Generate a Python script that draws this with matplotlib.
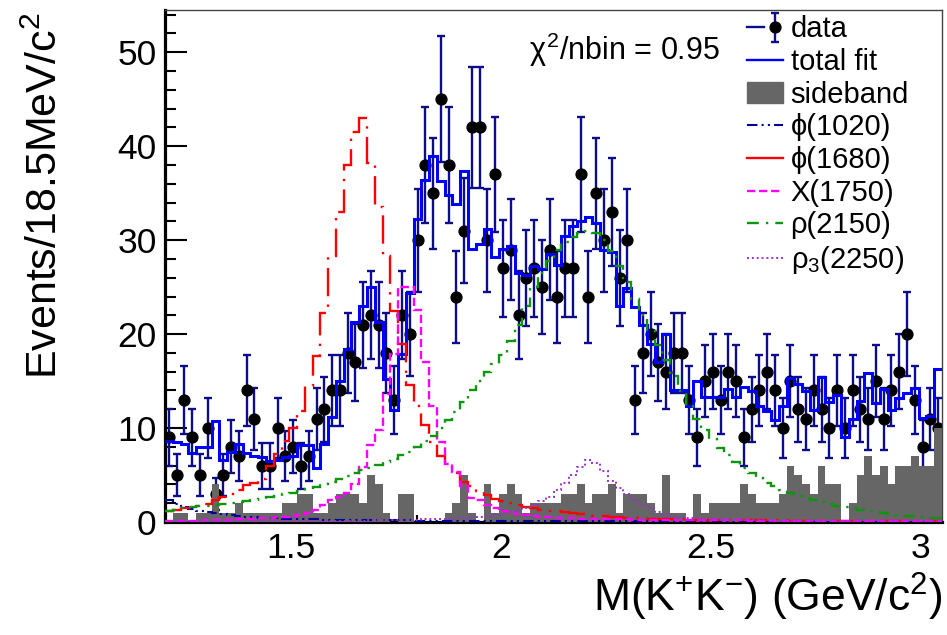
import numpy as np
import matplotlib
matplotlib.use("Agg")
import matplotlib.pyplot as plt
from matplotlib.lines import Line2D
from matplotlib.patches import Patch
from matplotlib.legend_handler import HandlerTuple
from matplotlib.ticker import MultipleLocator, FuncFormatter

plt.rcParams['font.family'] = ['Liberation Sans', 'DejaVu Sans']
plt.rcParams['mathtext.fontset'] = 'custom'
plt.rcParams['mathtext.rm'] = 'Liberation Sans'
plt.rcParams['mathtext.it'] = 'Liberation Sans'
plt.rcParams['mathtext.bf'] = 'Liberation Sans:bold'

# binning: 100 bins of 18.5 MeV starting at 1.2 GeV
x_min = 1.2
bin_width = 0.0185
n_bins = 100

data = [9, 5, 13, 9, 5, 10, 3, 5, 8, 7,
        14, 11, 6, 6, 10, 7, 8, 6, 7, 11,
        12, 14, 14, 18, 17, 21, 22, 21, 18, 13,
        22, 20, 30, 38, 35, 45, 38, 24, 31, 42,
        42, 30, 37, 27, 29, 22, 26, 27, 25, 29,
        24, 27, 27, 37, 24, 35, 30, 33, 26, 30,
        13, 18, 20, 17, 16, 18, 18, 13, 9, 15,
        16, 13, 16, 15, 9, 12, 14, 16, 14, 10,
        15, 12, 11, 14, 12, 10, 14, 10, 14, 12,
        11, 15, 11, 14, 16, 20, 13, 8, 11, 10]

total_fit = [8.6, 8.5, 8.3, 7.3, 8.0, 8.0, 10.7, 6.6, 7.5, 8.3,
             7.3, 7.0, 6.9, 6.5, 6.6, 6.9, 7.0, 8.2, 8.2, 5.7,
             8.3, 11.2, 15.0, 18.4, 21.3, 23.0, 25.0, 21.3, 15.2, 11.9,
             17.9, 24.4, 32.3, 36.4, 39.0, 36.3, 34.8, 33.9, 37.4, 29.1,
             29.6, 31.2, 28.2, 29.1, 29.4, 26.5, 26.3, 27.3, 26.9, 28.5,
             27.4, 30.4, 31.5, 32.0, 32.5, 31.8, 29.0, 28.7, 23.0, 24.9,
             22.9, 21.0, 18.9, 17.0, 20.0, 14.0, 14.0, 12.4, 15.0, 13.3,
             13.3, 13.3, 14.2, 13.3, 14.4, 13.9, 12.3, 11.8, 10.9, 12.3,
             15.3, 14.7, 13.9, 11.9, 15.4, 12.8, 13.5, 9.0, 11.0, 12.9,
             15.9, 12.7, 14.2, 11.9, 13.2, 13.7, 14.3, 11.1, 11.3, 16.3]

sideband = [0, 1, 1, 0, 1, 1, 4, 1, 1, 2,
            1, 1, 1, 1, 1, 2, 2, 3, 3, 1,
            1, 2, 3, 3, 3, 2, 5, 4, 1, 0,
            3, 3, 0, 0, 0, 0, 1, 2, 5, 1,
            0, 4, 1, 3, 4, 3, 1, 2, 2, 2,
            2, 3, 3, 4, 2, 3, 3, 4, 1, 3,
            3, 3, 2, 1, 5, 1, 1, 0, 3, 1,
            2, 2, 2, 2, 4, 3, 2, 2, 2, 3,
            6, 5, 4, 3, 6, 4, 4, 0, 2, 5,
            7, 5, 6, 4, 6, 6, 7, 6, 6, 10]

phi1020 = [2.3, 1.9, 1.6, 1.4, 1.2, 1.05, 0.92, 0.82, 0.72, 0.64,
           0.58, 0.52, 0.47, 0.43, 0.4, 0.37, 0.34, 0.31, 0.29, 0.27,
           0.25, 0.24, 0.23, 0.22, 0.21, 0.2, 0.19, 0.18, 0.17, 0.17,
           0.16, 0.16, 0.15, 0.15, 0.14, 0.14, 0.13, 0.13, 0.12, 0.12,
           0.12, 0.11, 0.11, 0.11, 0.1, 0.1, 0.1, 0.1, 0.09, 0.09,
           0.09, 0.09, 0.08, 0.08, 0.08, 0.08, 0.08, 0.07, 0.07, 0.07,
           0.07, 0.07, 0.07, 0.06, 0.06, 0.06, 0.06, 0.06, 0.06, 0.06,
           0.05, 0.05, 0.05, 0.05, 0.05, 0.05, 0.05, 0.05, 0.05, 0.05,
           0.04, 0.04, 0.04, 0.04, 0.04, 0.04, 0.04, 0.04, 0.04, 0.04,
           0.04, 0.04, 0.04, 0.03, 0.03, 0.03, 0.03, 0.03, 0.03, 0.03]

phi1680 = [1.2, 1.3, 1.45, 1.5, 1.7, 1.9, 2.3, 2.7, 3.0, 3.4,
           3.9, 4.2, 4.6, 6.0, 7.2, 8.6, 10.0, 11.8, 14.5, 17.7,
           22.3, 28.3, 33.0, 38.0, 41.5, 43.0, 38.2, 33.5, 28.3, 22.5,
           19.0, 14.6, 12.4, 10.3, 8.5, 7.0, 6.0, 5.2, 4.3, 3.8,
           3.3, 2.9, 2.5, 2.2, 2.0, 1.8, 1.6, 1.45, 1.3, 1.2,
           1.15, 1.05, 0.95, 0.85, 0.75, 0.65, 0.6, 0.55, 0.5, 0.45,
           0.42, 0.4, 0.37, 0.35, 0.33, 0.31, 0.29, 0.27, 0.26, 0.25,
           0.24, 0.23, 0.22, 0.21, 0.2, 0.19, 0.18, 0.17, 0.17, 0.16,
           0.15, 0.15, 0.14, 0.14, 0.13, 0.13, 0.12, 0.12, 0.11, 0.11,
           0.1, 0.1, 0.1, 0.09, 0.09, 0.09, 0.08, 0.08, 0.08, 0.08]

x1750 = [0.1, 0.1, 0.12, 0.13, 0.15, 0.17, 0.2, 0.22, 0.25, 0.28,
         0.3, 0.35, 0.4, 0.45, 0.5, 0.55, 0.62, 0.75, 0.95, 1.3,
         1.8, 2.3, 2.7, 3.1, 4.0, 5.9, 8.2, 9.8, 13.6, 17.9,
         25.0, 25.0, 22.6, 17.0, 12.4, 8.5, 6.2, 5.3, 3.8, 2.6,
         2.3, 1.8, 1.45, 1.2, 1.1, 0.85, 0.75, 0.6, 0.55, 0.5,
         0.45, 0.42, 0.4, 0.37, 0.35, 0.33, 0.31, 0.3, 0.28, 0.27,
         0.26, 0.25, 0.24, 0.23, 0.22, 0.21, 0.2, 0.2, 0.19, 0.18,
         0.18, 0.17, 0.17, 0.16, 0.16, 0.15, 0.15, 0.14, 0.14, 0.14,
         0.13, 0.13, 0.13, 0.12, 0.12, 0.12, 0.11, 0.11, 0.11, 0.11,
         0.1, 0.1, 0.1, 0.1, 0.1, 0.09, 0.09, 0.09, 0.09, 0.09]

rho2150 = [1.2, 1.3, 1.45, 1.55, 1.65, 1.75, 1.85, 1.95, 2.05, 2.15,
           2.25, 2.35, 2.5, 2.65, 2.8, 2.95, 3.1, 3.3, 3.5, 3.75,
           4.0, 4.25, 4.55, 4.9, 5.2, 5.5, 5.8, 6.1, 6.4, 6.7,
           7.1, 7.5, 8.0, 8.6, 9.2, 10.0, 10.9, 11.7, 12.8, 14.0,
           15.0, 16.0, 16.8, 17.8, 19.3, 21.0, 23.0, 25.0, 26.5, 27.8,
           29.0, 29.8, 30.3, 30.8, 31.0, 30.8, 30.0, 28.8, 27.3, 25.5,
           23.7, 22.0, 20.3, 18.8, 17.2, 15.5, 13.9, 12.4, 11.0, 9.8,
           8.8, 7.9, 7.1, 6.4, 5.8, 5.2, 4.7, 4.2, 3.8, 3.4,
           3.1, 2.8, 2.55, 2.3, 2.1, 1.9, 1.75, 1.6, 1.45, 1.3,
           1.2, 1.05, 0.95, 0.85, 0.75, 0.68, 0.6, 0.52, 0.46, 0.4]

rho3_2250 = [0.05, 0.05, 0.05, 0.06, 0.06, 0.06, 0.07, 0.07, 0.07, 0.08,
             0.08, 0.08, 0.09, 0.09, 0.1, 0.1, 0.1, 0.11, 0.11, 0.12,
             0.12, 0.13, 0.13, 0.14, 0.15, 0.15, 0.16, 0.17, 0.18, 0.19,
             0.2, 0.22, 0.25, 0.28, 0.3, 0.33, 0.36, 0.4, 0.45, 0.5,
             0.55, 0.65, 0.75, 0.9, 1.05, 1.25, 1.5, 1.8, 2.2, 2.7,
             3.4, 4.1, 5.0, 5.9, 6.6, 6.3, 5.4, 4.4, 3.6, 3.0,
             2.3, 1.8, 1.45, 1.1, 0.85, 0.65, 0.55, 0.45, 0.4, 0.35,
             0.3, 0.27, 0.24, 0.22, 0.2, 0.18, 0.17, 0.16, 0.15, 0.14,
             0.13, 0.12, 0.12, 0.11, 0.11, 0.1, 0.1, 0.1, 0.09, 0.09,
             0.09, 0.08, 0.08, 0.08, 0.08, 0.07, 0.07, 0.07, 0.07, 0.07]

edges = x_min + bin_width * np.arange(n_bins + 1)
centers = 0.5 * (edges[:-1] + edges[1:])
data = np.array(data, dtype=float)

navy = '#0c0c8c'

fig = plt.figure(figsize=(9.47, 6.35), dpi=100)
ax = fig.add_axes([165 / 947, 113 / 635, 777 / 947, 512 / 635])

# data first, then the histograms are drawn on top (as in the ROOT canvas)
eb = ax.errorbar(centers, data, yerr=np.sqrt(data), fmt='o', ms=7.8,
                 mfc='black', mec='black', ecolor=navy, elinewidth=1.7,
                 capsize=2.6, capthick=1.7, zorder=2)

ax.stairs(sideband, edges, fill=True, color='#666666', zorder=3)
ax.stairs(total_fit, edges, baseline=None, color='#0000ff', lw=2.2, zorder=4)

styles = {
    'phi1020': dict(color='#000099', lw=1.5, ls=(0, (5, 2, 1, 2, 1, 2))),
    'phi1680': dict(color='#ff0000', lw=1.7, ls=(0, (12, 3.5, 1, 3.5))),
    'x1750': dict(color='#ff00ff', lw=1.7, ls=(0, (3.5, 1.6))),
    'rho2150': dict(color='#0d960d', lw=1.7, ls=(0, (5, 3, 1, 3))),
    'rho3': dict(color='#9932cc', lw=1.4, ls=(0, (1, 1.5))),
}
ax.stairs(phi1020, edges, baseline=None, zorder=5, **styles['phi1020'])
ax.stairs(phi1680, edges, baseline=None, zorder=5, **styles['phi1680'])
ax.stairs(x1750, edges, baseline=None, zorder=5, **styles['x1750'])
ax.stairs(rho2150, edges, baseline=None, zorder=5, **styles['rho2150'])
ax.stairs(rho3_2250, edges, baseline=None, zorder=5, **styles['rho3'])

ax.set_xlim(edges[0], edges[-1])
ax.set_ylim(0, 54.5)

ax.xaxis.set_major_locator(MultipleLocator(0.5))
ax.xaxis.set_minor_locator(MultipleLocator(0.1))
ax.yaxis.set_major_locator(MultipleLocator(10))
ax.yaxis.set_minor_locator(MultipleLocator(2))
ax.xaxis.set_major_formatter(FuncFormatter(lambda v, p: '%g' % v))
ax.yaxis.set_major_formatter(FuncFormatter(lambda v, p: '%g' % v))

ax.tick_params(axis='both', which='both', direction='in', width=1.5,
               top=False, right=False, labelsize=25.5, colors='black')
ax.tick_params(axis='y', which='major', length=16, pad=6)
ax.tick_params(axis='y', which='minor', length=8)
ax.tick_params(axis='x', which='major', length=10.5, pad=7)
ax.tick_params(axis='x', which='minor', length=5)

for side in ['left', 'bottom']:
    ax.spines[side].set_linewidth(2.3)
    ax.spines[side].set_color('black')
for side in ['top', 'right']:
    ax.spines[side].set_linewidth(1.0)
    ax.spines[side].set_color('#444444')

fig.text(942 / 947, (635 - 612) / 635, r'M(K$^{+}$K$^{-}$) (GeV/c$^{2}$)',
         ha='right', va='baseline', fontsize=32)
fig.text(57 / 947, (635 - 12) / 635, r'Events/18.5MeV/c$^{2}$', rotation=90,
         rotation_mode='anchor', ha='right', va='baseline', fontsize=31)

ax.text(0.469, 0.922, r'$\chi^{2}$/nbin = 0.95', transform=ax.transAxes,
        ha='left', va='center', fontsize=22)

handles = [
    (Line2D([], [], color=navy, lw=1.7), eb),
    Line2D([], [], color='#0000ff', lw=1.7),
    Patch(facecolor='#666666', edgecolor='#666666'),
    Line2D([], [], **styles['phi1020']),
    Line2D([], [], color='#ff0000', lw=1.7),
    Line2D([], [], **styles['x1750']),
    Line2D([], [], **styles['rho2150']),
    Line2D([], [], **styles['rho3']),
]
labels = ['data', 'total fit', 'sideband', u'\u03d5(1020)', u'\u03d5(1680)',
          'X(1750)', u'\u03c1(2150)', r'$\rho_{3}$(2250)']
ax.legend(handles, labels, loc='upper left', bbox_to_anchor=(0.745, 0.995),
          frameon=False, fontsize=21, handlelength=1.25, handletextpad=0.25,
          labelspacing=0.16, borderpad=0.1, borderaxespad=0,
          handler_map={tuple: HandlerTuple(ndivide=None)})

fig.savefig('out.png', dpi=100)
